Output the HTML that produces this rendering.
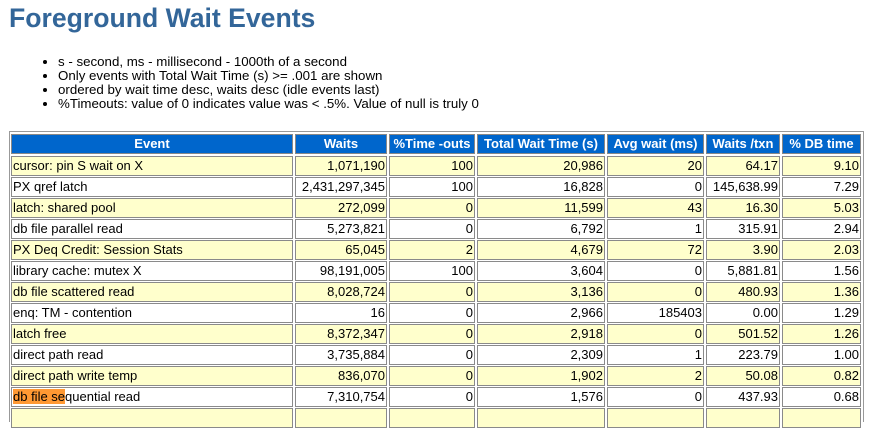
<!DOCTYPE html>
<html><head><meta charset="utf-8"><style>
body{margin:0;width:879px;height:413px;background:#fff;overflow:hidden;position:relative;font-family:"Liberation Sans",Arial,sans-serif}
h1{position:absolute;left:9px;top:3px;margin:0;font-size:26.6px;font-weight:bold;color:#336699}
ul{position:absolute;left:0;top:55px;margin:0;padding-left:58px;font-size:13.3px;line-height:14px;color:#000}
.t{position:absolute;left:9px;top:131px;width:853px;height:290px;border:1px solid #999;border-bottom:none}
.c{position:absolute;box-sizing:border-box;border:1px solid #8a8a8a;height:20px;font-size:13px;line-height:18px;padding:0 1px;white-space:nowrap;overflow:hidden}
.h{background:#0066cc;color:#fff;font-weight:bold;text-align:center;border-color:#888}
.y{background:#ffffcc}
.r{text-align:right}
.hl{background:#ff9933}
</style></head><body>
<h1>Foreground Wait Events</h1>
<ul>
<li>s - second, ms - millisecond - 1000th of a second</li>
<li>Only events with Total Wait Time (s) &gt;= .001 are shown</li>
<li>ordered by wait time desc, waits desc (idle events last)</li>
<li>%Timeouts: value of 0 indicates value was &lt; .5%. Value of null is truly 0</li>
</ul>
<div class="t"></div>
<div id="g"></div>
<script>
var L=[11,295,389,477,607,706,782],R=[293,387,475,605,704,780,861];
var H=["Event","Waits","%Time -outs","Total Wait Time (s)","Avg wait (ms)","Waits /txn","% DB time"];
var D=[
["cursor: pin S wait on X","1,071,190","100","20,986","20","64.17","9.10"],
["PX qref latch","2,431,297,345","100","16,828","0","145,638.99","7.29"],
["latch: shared pool","272,099","0","11,599","43","16.30","5.03"],
["db file parallel read","5,273,821","0","6,792","1","315.91","2.94"],
["PX Deq Credit: Session Stats","65,045","2","4,679","72","3.90","2.03"],
["library cache: mutex X","98,191,005","100","3,604","0","5,881.81","1.56"],
["db file scattered read","8,028,724","0","3,136","0","480.93","1.36"],
["enq: TM - contention","16","0","2,966","185403","0.00","1.29"],
["latch free","8,372,347","0","2,918","0","501.52","1.26"],
["direct path read","3,735,884","0","2,309","1","223.79","1.00"],
["direct path write temp","836,070","0","1,902","2","50.08","0.82"],
["db file sequential read","7,310,754","0","1,576","0","437.93","0.68"],
["","","","","","",""]];
var s="";
for(var j=0;j<7;j++)s+='<div class="c h" style="left:'+L[j]+'px;top:134px;width:'+(R[j]-L[j])+'px">'+H[j]+'</div>';
for(var i=0;i<D.length;i++){var tp=156+21*i;var cl=i%2==0?" y":"";
for(var j=0;j<7;j++){var t=D[i][j];if(i==11&&j==0)t='<span class="hl">db file se</span>quential read';
s+='<div class="c'+cl+(j?' r':'')+'" style="left:'+L[j]+'px;top:'+tp+'px;width:'+(R[j]-L[j])+'px">'+t+'</div>';}}
document.getElementById("g").innerHTML=s;
</script>
</body></html>
